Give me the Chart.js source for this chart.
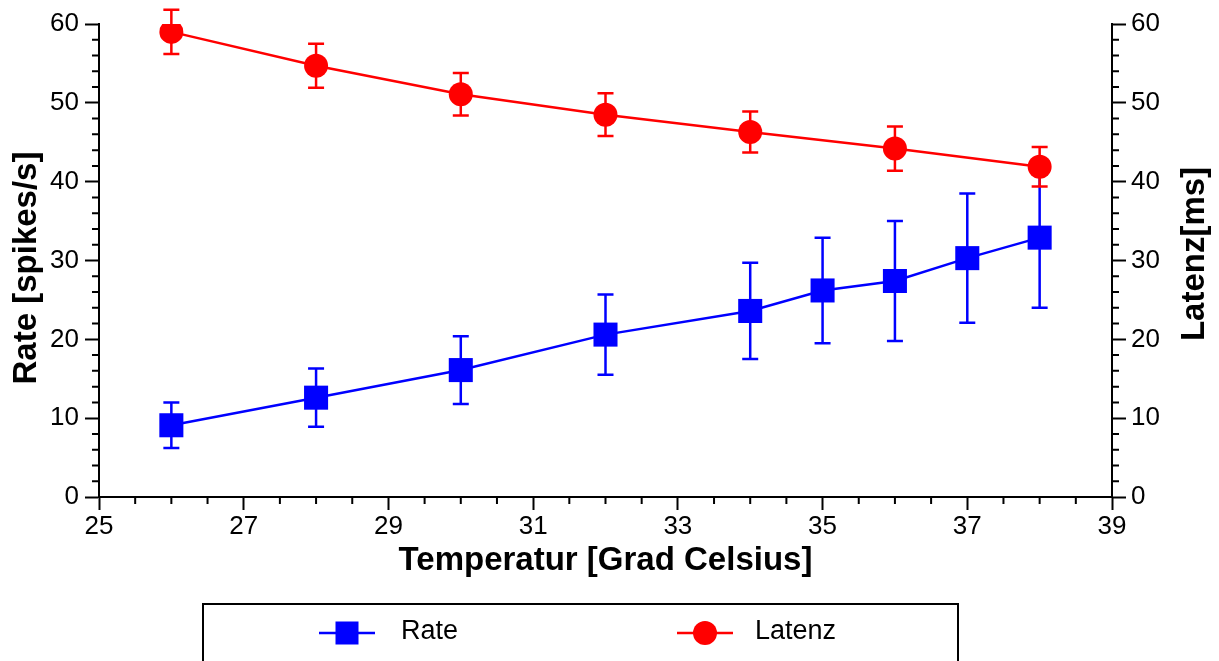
<!DOCTYPE html>
<html>
<head>
<meta charset="utf-8">
<script src="https://cdn.jsdelivr.net/npm/chart.js@4.4.1/dist/chart.umd.min.js"></script>
<style>
  html, body { margin: 0; padding: 0; background: #fff; }
  #wrap { width: 1219px; height: 661px; position: relative; }
</style>
</head>
<body>
<div id="wrap"><canvas id="chart"></canvas></div>
<script>
// data
let rateTemps = [26, 28, 30, 32, 34, 35, 36, 37, 38];
let rateValues = [9.1, 12.6, 16.1, 20.6, 23.6, 26.2, 27.4, 30.3, 32.9];
let rateErrors = [2.9, 3.7, 4.3, 5.1, 6.1, 6.7, 7.6, 8.2, 8.9];

let latenzTemps = [26, 28, 30, 32, 34, 36, 38];
let latenzValues = [59.0, 54.7, 51.1, 48.5, 46.3, 44.2, 41.9];
let latenzErrors = [2.8, 2.8, 2.7, 2.7, 2.6, 2.8, 2.5];

let xTicks = [25, 27, 29, 31, 33, 35, 37, 39];
let yTicks = [0, 10, 20, 30, 40, 50, 60];

let blue = 'rgb(0, 0, 255)';
let red = 'rgb(255, 0, 0)';

function toPoints(xs, ys) {
  return xs.map(function(x, i) { return { x: x, y: ys[i] }; });
}

// vertical error bars, drawn below the markers
const errorBars = {
  id: 'errorBars',
  beforeDatasetsDraw(chart) {
    let ctx = chart.ctx;
    let xs = chart.scales.x;
    chart.data.datasets.forEach(function(ds, di) {
      let ys = chart.scales[ds.yAxisID];
      ctx.save();
      ctx.strokeStyle = ds.borderColor;
      ctx.lineWidth = 2.5;
      ds.data.forEach(function(p, i) {
        let e = ds.errors[i];
        let px = xs.getPixelForValue(p.x);
        let top = ys.getPixelForValue(p.y + e);
        let bot = ys.getPixelForValue(p.y - e);
        ctx.beginPath();
        ctx.moveTo(px, top);
        ctx.lineTo(px, bot);
        ctx.moveTo(px - 8, top);
        ctx.lineTo(px + 8, top);
        ctx.moveTo(px - 8, bot);
        ctx.lineTo(px + 8, bot);
        ctx.stroke();
      });
      ctx.restore();
    });
  }
};

// minor ticks, axis titles on the sides and the boxed legend
const extras = {
  id: 'extras',
  afterDraw(chart) {
    let ctx = chart.ctx;
    let xs = chart.scales.x;
    let yl = chart.scales.y;
    let yr = chart.scales.y1;
    let area = chart.chartArea;
    ctx.save();
    ctx.strokeStyle = '#000';
    ctx.lineWidth = 2;
    ctx.beginPath();
    for (let v = 25; v <= 39; v += 0.5) {
      if (xTicks.indexOf(v) >= 0) continue;
      let px = xs.getPixelForValue(v);
      ctx.moveTo(px, area.bottom);
      ctx.lineTo(px, area.bottom + 7);
    }
    for (let v = 0; v <= 60; v += 2) {
      if (yTicks.indexOf(v) >= 0) continue;
      let py = yl.getPixelForValue(v);
      ctx.moveTo(area.left, py);
      ctx.lineTo(area.left - 7, py);
      py = yr.getPixelForValue(v);
      ctx.moveTo(area.right, py);
      ctx.lineTo(area.right + 7, py);
    }
    ctx.stroke();

    // y titles, both reading bottom to top
    ctx.fillStyle = '#000';
    ctx.font = 'bold 33px "Liberation Sans", Arial, sans-serif';
    ctx.textAlign = 'center';
    ctx.textBaseline = 'middle';
    ctx.save();
    ctx.translate(27, 268);
    ctx.rotate(-Math.PI / 2);
    ctx.fillText('Rate [spikes/s]', 0, 0);
    ctx.restore();
    ctx.save();
    ctx.translate(1195, 254);
    ctx.rotate(-Math.PI / 2);
    ctx.fillText('Latenz[ms]', 0, 0);
    ctx.restore();

    // legend box
    ctx.lineWidth = 2;
    ctx.strokeRect(203, 604, 755, 100);
    let items = [
      { ds: chart.data.datasets[0], cx: 347, tx: 401 },
      { ds: chart.data.datasets[1], cx: 705, tx: 755 }
    ];
    let ly = 633;
    items.forEach(function(it) {
      ctx.strokeStyle = it.ds.borderColor;
      ctx.lineWidth = 2.5;
      ctx.beginPath();
      ctx.moveTo(it.cx - 28, ly);
      ctx.lineTo(it.cx + 28, ly);
      ctx.stroke();
      ctx.fillStyle = it.ds.borderColor;
      if (it.ds.pointStyle === 'rect') {
        ctx.fillRect(it.cx - 11.5, ly - 11.5, 23, 23);
      } else {
        ctx.beginPath();
        ctx.arc(it.cx, ly, 12, 0, Math.PI * 2);
        ctx.fill();
      }
      ctx.fillStyle = '#000';
      ctx.font = '27px "Liberation Sans", Arial, sans-serif';
      ctx.textAlign = 'left';
      ctx.textBaseline = 'middle';
      ctx.fillText(it.ds.label, it.tx, ly - 1);
    });
    ctx.restore();
  }
};

let tickFont = { family: '"Liberation Sans", Arial, sans-serif', size: 26 };

let ctx = document.getElementById('chart').getContext('2d');
let chart = new Chart(ctx, {
  type: 'line',
  data: {
    datasets: [{
      label: 'Rate',
      data: toPoints(rateTemps, rateValues),
      errors: rateErrors,
      yAxisID: 'y',
      borderColor: blue,
      backgroundColor: blue,
      borderWidth: 2.5,
      pointStyle: 'rect',
      pointRadius: 17,
      pointBorderWidth: 0,
      order: 1
    }, {
      label: 'Latenz',
      data: toPoints(latenzTemps, latenzValues),
      errors: latenzErrors,
      yAxisID: 'y1',
      borderColor: red,
      backgroundColor: red,
      borderWidth: 2.5,
      pointStyle: 'circle',
      pointRadius: 12,
      pointBorderWidth: 0,
      order: 0
    }]
  },
  options: {
    responsive: true,
    maintainAspectRatio: false,
    animation: false,
    layout: { padding: { top: 24, left: 0, right: 0, bottom: 0 } },
    plugins: {
      legend: { display: false },
      tooltip: { enabled: false }
    },
    scales: {
      x: {
        type: 'linear',
        min: 25,
        max: 39,
        ticks: { stepSize: 2, color: '#000', font: { family: tickFont.family, size: 26 }, padding: 1, maxRotation: 0 },
        grid: { drawOnChartArea: false, tickLength: 13, tickColor: '#000', tickWidth: 2 },
        border: { color: '#000', width: 2 },
        title: {
          display: true,
          text: 'Temperatur [Grad Celsius]',
          color: '#000',
          font: { family: tickFont.family, size: 33, weight: 'bold' },
          padding: { top: 0, bottom: 80 }
        },
        afterFit: function(scale) { scale.height = 164; }
      },
      y: {
        position: 'left',
        min: 0,
        max: 60,
        ticks: { stepSize: 10, color: '#000', font: tickFont, padding: 6 },
        grid: { drawOnChartArea: false, tickLength: 14, tickColor: '#000', tickWidth: 2 },
        border: { color: '#000', width: 2 },
        afterFit: function(scale) { scale.width = 99; }
      },
      y1: {
        position: 'right',
        min: 0,
        max: 60,
        ticks: { stepSize: 10, color: '#000', font: tickFont, padding: 5 },
        grid: { drawOnChartArea: false, tickLength: 14, tickColor: '#000', tickWidth: 2 },
        border: { color: '#000', width: 2 },
        afterFit: function(scale) { scale.width = 107; }
      }
    }
  },
  plugins: [errorBars, extras]
});
</script>
</body>
</html>
